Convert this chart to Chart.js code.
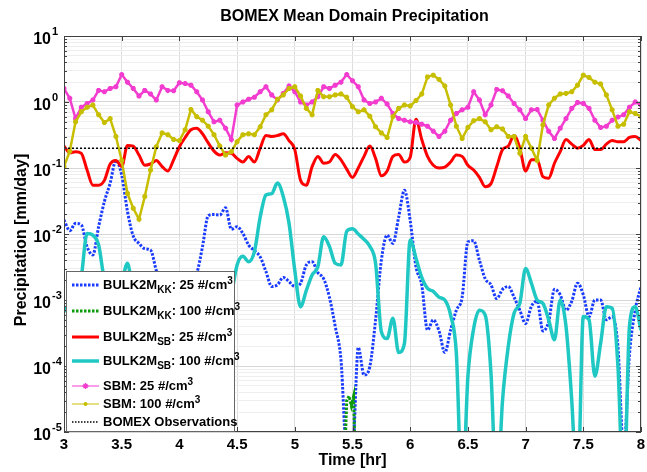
<!DOCTYPE html>
<html>
<head>
<meta charset="utf-8">
<script src="https://cdn.jsdelivr.net/npm/chart.js@4.4.1/dist/chart.umd.min.js"></script>
<style>
html, body { margin: 0; padding: 0; background: #fff; }
#wrap { position: relative; width: 647px; height: 472px; font-family: 'Liberation Sans', Arial, sans-serif; }
#title { position: absolute; left: 64px; width: 581px; top: 7px; text-align: center; font-weight: bold; font-size: 16px; }
#legend { position: absolute; left: 66px; top: 271px; width: 169px; height: 161px; background: #fff; border: 1px solid #666; box-sizing: border-box; }
.row { position: absolute; left: 5px; height: 20px; display: flex; align-items: center; font-weight: bold; font-size: 13px; white-space: nowrap; }
.row svg { margin-right: 4px; flex: none; }
.row span { line-height: 20px; }
sub, sup { font-size: 10px; line-height: 0; }
sub { vertical-align: -4px; }
sup { vertical-align: 5px; }
</style>
</head>
<body>
<div id="wrap">
  <canvas id="chart" width="647" height="472"></canvas>
  <div id="title">BOMEX Mean Domain Precipitation</div>
  <div id="legend">
    <div class="row" style="top:3px"><svg width="27" height="10"><line x1="0" y1="5" x2="27" y2="5" stroke="#1a3cff" stroke-width="3" stroke-dasharray="2.5 1.5"/></svg><span>BULK2M<sub>KK</sub>: 25 #/cm<sup>3</sup></span></div>
    <div class="row" style="top:29px"><svg width="27" height="10"><line x1="0" y1="5" x2="27" y2="5" stroke="#0a9a0a" stroke-width="3" stroke-dasharray="2.5 1.5"/></svg><span>BULK2M<sub>KK</sub>: 100 #/cm<sup>3</sup></span></div>
    <div class="row" style="top:55px"><svg width="27" height="10"><line x1="0" y1="5" x2="27" y2="5" stroke="#ff0000" stroke-width="3"/></svg><span>BULK2M<sub>SB</sub>: 25 #/cm<sup>3</sup></span></div>
    <div class="row" style="top:79px"><svg width="27" height="10"><line x1="0" y1="5" x2="27" y2="5" stroke="#20c8c4" stroke-width="3.5"/></svg><span>BULK2M<sub>SB</sub>: 100 #/cm<sup>3</sup></span></div>
    <div class="row" style="top:104px"><svg width="27" height="10"><line x1="0" y1="5" x2="27" y2="5" stroke="#f23ccf" stroke-width="1"/><path d="M13.5 2v6M10.5 5h6M11.5 3l4 4M15.5 3l-4 4" stroke="#f23ccf" stroke-width="1.3"/></svg><span>SBM: 25 #/cm<sup>3</sup></span></div>
    <div class="row" style="top:122px"><svg width="27" height="10"><line x1="0" y1="5" x2="27" y2="5" stroke="#c8be00" stroke-width="1"/><circle cx="13.5" cy="5" r="2" fill="#c8be00"/></svg><span>SBM: 100 #/cm<sup>3</sup></span></div>
    <div class="row" style="top:140px"><svg width="27" height="10"><line x1="0" y1="5" x2="27" y2="5" stroke="#000" stroke-width="1.5" stroke-dasharray="1.5 1.5"/></svg><span>BOMEX Observations</span></div>
  </div>
</div>
<script>
// time axis (hours), one reading every 0.05 hr
const times = [
  3, 3.05, 3.1, 3.15, 3.2, 3.25, 3.3, 3.35, 3.4, 3.45,
  3.5, 3.55, 3.6, 3.65, 3.7, 3.75, 3.8, 3.85, 3.9, 3.95,
  4, 4.05, 4.1, 4.15, 4.2, 4.25, 4.3, 4.35, 4.4, 4.45,
  4.5, 4.55, 4.6, 4.65, 4.7, 4.75, 4.8, 4.85, 4.9, 4.95,
  5, 5.05, 5.1, 5.15, 5.2, 5.25, 5.3, 5.35, 5.4, 5.45,
  5.5, 5.55, 5.6, 5.65, 5.7, 5.75, 5.8, 5.85, 5.9, 5.95,
  6, 6.05, 6.1, 6.15, 6.2, 6.25, 6.3, 6.35, 6.4, 6.45,
  6.5, 6.55, 6.6, 6.65, 6.7, 6.75, 6.8, 6.85, 6.9, 6.95,
  7, 7.05, 7.1, 7.15, 7.2, 7.25, 7.3, 7.35, 7.4, 7.45,
  7.5, 7.55, 7.6, 7.65, 7.7, 7.75, 7.8, 7.85, 7.9, 7.95,
  8
];

// BULK2M KK, 25 #/cm3
const kk25 = [
  0.0163, 0.0112, 0.0145, 0.0137, 0.0064, 0.0048, 0.0129, 0.031, 0.059, 0.13,
  0.078, 0.022, 0.0093, 0.0072, 0.006, 0.0057, 0.0028, 0.0015, 0.0009, 0.0006,
  0.0008, 0.0012, 0.0018, 0.0025, 0.0064, 0.019, 0.0197, 0.0194, 0.025, 0.0118,
  0.0129, 0.0102, 0.0068, 0.0056, 0.0045, 0.0027, 0.0016, 0.0017, 0.0022, 0.0019,
  0.0016, 0.0018, 0.0034, 0.0038, 0.0026, 0.0021, 0.0011, 0.0004, 0.000125, 0.000005,
  0.000005, 0.00019, 0.000073, 0.000098, 0.0005, 0.004, 0.0096, 0.0072, 0.018, 0.046,
  0.016, 0.0032, 0.0017, 0.00035, 0.0005, 0.00034, 0.00016, 0.00035, 0.0007, 0.0011,
  0.0076, 0.0079, 0.004, 0.0021, 0.0017, 0.00105, 0.00145, 0.0016, 0.0011, 0.0007,
  0.00044, 0.0008, 0.00096, 0.00034, 0.00047, 0.00145, 0.0012, 0.0007, 0.00096, 0.0018,
  0.0012, 0.00056, 0.001, 0.001, 0.0005, 0.00056, 0.0002, 0.000005, 0.00015, 0.0007,
  0.0016
];

// BULK2M KK, 100 #/cm3 (only shows up briefly near 5.5 hr)
const kk100Times = [5.42, 5.45, 5.47, 5.49, 5.51, 5.53];
const kk100 = [0.000001, 0.00003, 0.000035, 0.000025, 0.000035, 0.000001];

// BULK2M SB, 25 #/cm3
const sb25 = [
  0.215, 0.17, 0.177, 0.167, 0.093, 0.055, 0.055, 0.065, 0.115, 0.13,
  0.105, 0.22, 0.215, 0.157, 0.11, 0.115, 0.13, 0.105, 0.09, 0.133,
  0.21, 0.29, 0.38, 0.4, 0.33, 0.24, 0.18, 0.157, 0.17, 0.167,
  0.14, 0.123, 0.149, 0.123, 0.2, 0.31, 0.3, 0.31, 0.33, 0.26,
  0.19, 0.065, 0.055, 0.105, 0.15, 0.118, 0.123, 0.16, 0.133, 0.096,
  0.072, 0.1, 0.15, 0.215, 0.14, 0.076, 0.09, 0.15, 0.16, 0.123,
  0.145, 0.55, 0.27, 0.15, 0.11, 0.1, 0.103, 0.123, 0.157, 0.15,
  0.11, 0.093, 0.072, 0.052, 0.058, 0.105, 0.19, 0.215, 0.31, 0.2,
  0.09, 0.133, 0.133, 0.074, 0.07, 0.118, 0.177, 0.27, 0.23, 0.2,
  0.22, 0.27, 0.19, 0.19, 0.23, 0.26, 0.25, 0.25, 0.29, 0.3,
  0.26
];

// BULK2M SB, 100 #/cm3
const sb100 = [
  0.0008, 0.0006, 0.0007, 0.0022, 0.0102, 0.0096, 0.0068, 0.002, 0.0012, 0.0011,
  0.0018, 0.0036, 0.0012, 0.0008, 0.0006, 0.0005, 0.0004, 0.0003, 0.0003, 0.0004,
  0.0005, 0.0004, 0.0003, 0.0002, 0.0001, 0.00004, 0.00002, 0.0001, 0.0005, 0.0012,
  0.0034, 0.0046, 0.0038, 0.0054, 0.018, 0.039, 0.041, 0.059, 0.037, 0.0145,
  0.0028, 0.00079, 0.0014, 0.0024, 0.0032, 0.0091, 0.0065, 0.0036, 0.0034, 0.011,
  0.012, 0.01, 0.0083, 0.0065, 0.0036, 0.00033, 0.00026, 0.00053, 0.00016, 0.00022,
  0.0081, 0.0043, 0.0022, 0.0015, 0.00135, 0.0011, 0.001, 0.00059, 0.000155, 0.000001,
  0.000069, 0.00037, 0.0007, 0.00059, 0.000078, 0.000001, 0.00003, 0.0002, 0.00063, 0.00089,
  0.003, 0.0018, 0.001, 0.00089, 0.0005, 0.00025, 0.001, 0.0004, 0.00003, 0.000001,
  0.00056, 0.0005, 0.00007, 0.00022, 0.00079, 0.00075, 0.0001, 0.000001, 0.0004, 0.00079,
  0.00035
];

// SBM, 25 #/cm3
const sbm25 = [
  1.6, 1.14, 0.56, 0.83, 0.95, 1.07, 1.5, 1.43, 1.6, 1.7,
  2.6, 2.0, 1.6, 1.23, 1.5, 1.32, 1.07, 1.7, 1.5, 1.48,
  1.96, 1.9, 1.8, 1.43, 1.07, 0.71, 0.5, 0.53, 0.4, 0.27,
  0.9, 1.0, 1.1, 1.18, 1.43, 1.7, 1.28, 1.07, 1.35, 1.75,
  1.43, 1.0, 0.9, 1.0, 1.2, 1.7, 1.6, 1.8, 2.0, 2.6,
  2.1, 1.7, 1.07, 0.95, 1.0, 1.14, 0.93, 0.67, 0.56, 0.53,
  0.5, 0.49, 0.46, 0.43, 0.36, 0.3, 0.36, 0.53, 0.67, 0.76,
  0.83, 1.43, 1.07, 0.64, 0.9, 1.55, 1.48, 1.23, 0.95, 0.76,
  0.56, 0.76, 0.77, 0.53, 0.36, 0.28, 0.4, 0.56, 0.8, 0.98,
  0.95, 0.8, 0.53, 0.41, 0.43, 0.53, 0.59, 0.64, 0.83, 1.0,
  0.9
];

// SBM, 100 #/cm3
const sbm100 = [
  0.105, 0.18, 0.5, 0.71, 0.83, 0.9, 0.64, 0.49, 0.56, 0.3,
  0.13, 0.041, 0.0245, 0.0167, 0.037, 0.093, 0.21, 0.34, 0.32, 0.27,
  0.26, 0.38, 0.77, 0.6, 0.53, 0.43, 0.32, 0.215, 0.157, 0.177,
  0.25, 0.32, 0.33, 0.32, 0.42, 0.64, 0.76, 1.1, 1.28, 1.6,
  1.7, 1.23, 0.8, 0.64, 1.5, 1.2, 1.2, 1.28, 1.32, 1.18,
  0.85, 0.71, 0.76, 0.61, 0.42, 0.34, 0.29, 0.6, 0.8, 0.9,
  0.87, 1.05, 1.32, 2.4, 2.55, 2.2, 1.75, 0.9, 0.43, 0.28,
  0.41, 0.52, 0.56, 0.5, 0.38, 0.42, 0.39, 0.3, 0.3, 0.167,
  0.3, 0.2, 0.13, 0.45, 0.9, 1.14, 1.32, 1.35, 1.43, 1.8,
  2.55, 2.35, 2.0, 1.87, 1.28, 0.76, 0.43, 0.46, 0.71, 0.67,
  0.6
];

// BOMEX observations
const obsTimes = [3, 8];
const obsValues = [0.2, 0.2];

// y axis decades that get a 10^n label
const yExponents = [1, 0, -1, -2, -3, -4, -5];

const fontFamily = "'Liberation Sans', Arial, sans-serif";

function pts(xs, ys) {
    return xs.map((t, i) => ({ x: t, y: ys[i] }));
}

function isDecade(v) {
    const l = Math.log10(v);
    return Math.abs(l - Math.round(l)) < 1e-9;
}

// frame, inner tick marks, 10^n labels and y title, drawn like the MATLAB figure
const framePlugin = {
    id: 'frame',
    afterDraw(chart) {
        const { ctx, chartArea: a, scales: { x, y } } = chart;
        ctx.save();
        ctx.strokeStyle = '#404040';
        ctx.lineWidth = 1;
        ctx.beginPath();
        y.ticks.forEach(t => {
            const py = Math.round(y.getPixelForValue(t.value)) + 0.5;
            const len = isDecade(t.value) ? 5 : 3;
            ctx.moveTo(a.left, py); ctx.lineTo(a.left + len, py);
            ctx.moveTo(a.right, py); ctx.lineTo(a.right - len, py);
        });
        x.ticks.forEach(t => {
            const px = Math.round(x.getPixelForValue(t.value)) + 0.5;
            ctx.moveTo(px, a.bottom); ctx.lineTo(px, a.bottom - 5);
            ctx.moveTo(px, a.top); ctx.lineTo(px, a.top + 5);
        });
        ctx.stroke();
        ctx.strokeRect(a.left + 0.5, a.top + 0.5, a.right - a.left - 1, a.bottom - a.top - 1);

        ctx.fillStyle = '#000';
        yExponents.forEach(e => {
            const py = y.getPixelForValue(Math.pow(10, e));
            ctx.font = 'bold 16px ' + fontFamily;
            ctx.textAlign = 'right';
            ctx.textBaseline = 'middle';
            ctx.fillText('10', a.left - 13, py + 4);
            ctx.font = 'bold 11px ' + fontFamily;
            ctx.textAlign = 'left';
            ctx.fillText(String(e), a.left - 12, py - 4);
        });

        ctx.translate(22, (a.top + a.bottom) / 2 + 6);
        ctx.rotate(-Math.PI / 2);
        ctx.font = 'bold 16px ' + fontFamily;
        ctx.textAlign = 'center';
        ctx.textBaseline = 'middle';
        ctx.fillText('Precipitation [mm/day]', 0, 0);
        ctx.restore();
    }
};

new Chart(document.getElementById('chart'), {
    type: 'line',
    data: {
        datasets: [
            { label: 'BOMEX Observations', data: pts(obsTimes, obsValues), borderColor: '#000', borderWidth: 1.5, borderDash: [2, 2], pointRadius: 0, order: 0 },
            { label: 'SBM: 100 #/cm3', data: pts(times, sbm100), borderColor: '#c8be00', borderWidth: 2.5, pointStyle: 'star', pointRadius: 2.5, pointBorderWidth: 2, pointBorderColor: '#c8be00', pointBackgroundColor: '#c8be00', order: 1 },
            { label: 'SBM: 25 #/cm3', data: pts(times, sbm25), borderColor: '#f23ccf', borderWidth: 2.5, pointStyle: 'star', pointRadius: 2.5, pointBorderWidth: 2, pointBorderColor: '#f23ccf', pointBackgroundColor: '#f23ccf', order: 2 },
            { label: 'BULK2M SB: 100 #/cm3', data: pts(times, sb100), borderColor: '#20c8c4', borderWidth: 3.5, pointRadius: 0, cubicInterpolationMode: 'monotone', order: 3 },
            { label: 'BULK2M SB: 25 #/cm3', data: pts(times, sb25), borderColor: '#ff0000', borderWidth: 3, pointRadius: 0, cubicInterpolationMode: 'monotone', order: 4 },
            { label: 'BULK2M KK: 100 #/cm3', data: pts(kk100Times, kk100), borderColor: '#0a9a0a', borderWidth: 3, borderDash: [2.5, 1.5], pointRadius: 0, order: 5 },
            { label: 'BULK2M KK: 25 #/cm3', data: pts(times, kk25), borderColor: '#1a3cff', borderWidth: 3, borderDash: [2.5, 1.5], pointRadius: 0, cubicInterpolationMode: 'monotone', order: 6 }
        ]
    },
    options: {
        responsive: false,
        animation: false,
        clip: 0,
        layout: { padding: { top: 36, right: 2, left: 0, bottom: 0 } },
        plugins: { legend: { display: false }, tooltip: { enabled: false } },
        scales: {
            x: {
                type: 'linear',
                min: 3,
                max: 8,
                ticks: { stepSize: 0.5, autoSkip: false, maxRotation: 0, padding: 4, color: '#000', font: { family: fontFamily, size: 15, weight: 'bold' }, callback: v => String(v) },
                grid: { color: '#dddddd', drawTicks: false },
                border: { display: false },
                title: { display: true, text: 'Time [hr]', color: '#000', font: { family: fontFamily, size: 16, weight: 'bold' }, padding: { top: 2, bottom: 2 } },
                afterFit(scale) { scale.height = 40; scale.paddingLeft = 0; scale.paddingRight = 0; }
            },
            y: {
                type: 'logarithmic',
                min: 1e-5,
                max: 10,
                ticks: { display: false, autoSkip: false },
                grid: { drawTicks: false, color: ctx => (ctx.tick && isDecade(ctx.tick.value)) ? '#d6d6d6' : '#eeeeee' },
                border: { display: false },
                afterBuildTicks(scale) {
                    const ticks = [];
                    for (let e = -5; e <= 0; e++) {
                        for (let m = 1; m <= 9; m++) ticks.push({ value: m * Math.pow(10, e) });
                    }
                    ticks.push({ value: 10 });
                    scale.ticks = ticks;
                },
                afterFit(scale) { scale.width = 64; }
            }
        }
    },
    plugins: [framePlugin]
});
</script>
</body>
</html>
